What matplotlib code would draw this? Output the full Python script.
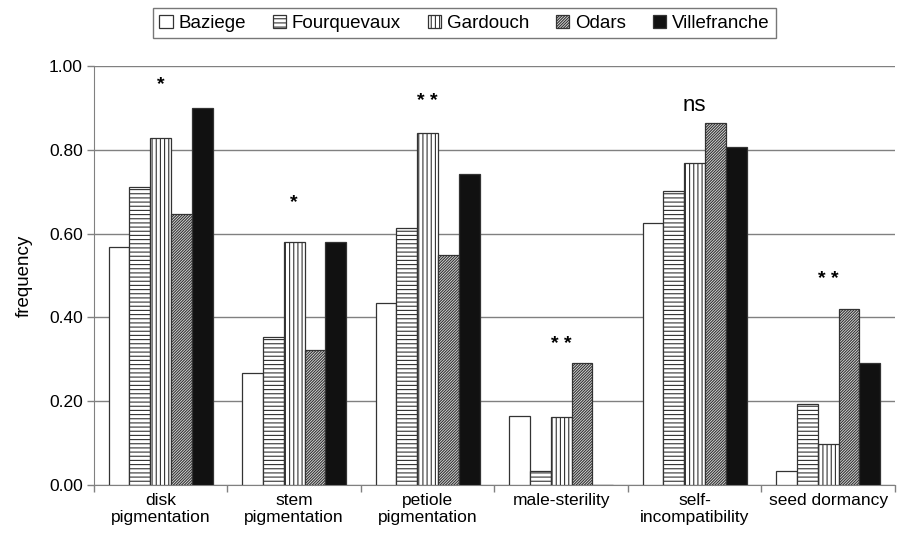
import matplotlib
matplotlib.use("Agg")
import matplotlib.pyplot as plt
import numpy as np

plt.rcParams['font.family'] = ['Liberation Sans', 'DejaVu Sans']
plt.rcParams['hatch.linewidth'] = 0.8

categories = ["disk\npigmentation", "stem\npigmentation", "petiole\npigmentation",
              "male-sterility", "self-\nincompatibility", "seed dormancy"]
series_names = ["Baziege", "Fourquevaux", "Gardouch", "Odars", "Villefranche"]
baziege = [0.567, 0.268, 0.434, 0.165, 0.626, 0.034]
fourquevaux = [0.710, 0.354, 0.613, 0.034, 0.701, 0.193]
gardouch = [0.828, 0.581, 0.839, 0.162, 0.769, 0.098]
odars = [0.647, 0.322, 0.550, 0.290, 0.865, 0.421]
villefranche = [0.900, 0.581, 0.742, 0.0, 0.807, 0.290]
annotations = ["*", "*", "* *", "* *", "ns", "* *"]
annot_y = [0.955, 0.675, 0.915, 0.335, 0.905, 0.490]
yticks = [0.0, 0.2, 0.4, 0.6, 0.8, 1.0]

series = [baziege, fourquevaux, gardouch, odars, villefranche]
hatches = ["", "----", "||||", "////////////", ""]
hatch_faces = ["white", "white", "white", "#e0e0e0", "#111111"]

fig = plt.figure(figsize=(9, 5.4), dpi=100)
ax = fig.add_axes([0.1044, 0.1019, 0.89, 0.7759])

x = np.arange(len(categories))
bw = 0.156
handles = []
for i, (name, vals) in enumerate(zip(series_names, series)):
    pos = x + (i - 2) * bw
    bars = ax.bar(pos, vals, width=bw, facecolor=hatch_faces[i], edgecolor="#333333",
                  hatch=hatches[i], linewidth=0.9, label=name, zorder=3)
    handles.append(bars)

ax.set_xlim(-0.5, len(categories) - 0.5)
ax.set_ylim(0, 1.0)
ax.set_yticks(yticks)
ax.set_yticklabels([f"{v:.2f}" for v in yticks], fontsize=12.5)
ax.yaxis.grid(True, color="#808080", linewidth=1.0, zorder=0)
ax.set_axisbelow(True)
ax.set_xticks(x)
ax.set_xticklabels(categories, fontsize=12.5, linespacing=1.1)
ax.set_xticks(np.arange(len(categories) + 1) - 0.5, minor=True)
ax.tick_params(axis='x', which='major', length=0, pad=6)
ax.tick_params(axis='x', which='minor', length=5, color="#808080", width=1)
ax.tick_params(axis='y', length=5, color="#808080", width=1, pad=3)
for s in ["top", "right"]:
    ax.spines[s].set_visible(False)
ax.spines["left"].set_color("#808080")
ax.spines["bottom"].set_color("#808080")
ax.set_ylabel("frequency", fontsize=13.5, labelpad=12)

for xi, txt, yv in zip(x, annotations, annot_y):
    if txt == "ns":
        ax.text(xi, yv, txt, ha="center", va="center", fontsize=16)
    else:
        ax.text(xi, yv, txt, ha="center", va="center", fontsize=14, fontweight="bold")

leg = fig.legend(handles=handles, labels=series_names, loc="center", ncol=5,
                 bbox_to_anchor=(0.516, 0.957), fontsize=13.5, frameon=True,
                 fancybox=False, edgecolor="#555555", handlelength=0.7,
                 handleheight=0.7, handletextpad=0.3, columnspacing=1.45,
                 borderpad=0.35)
leg.get_frame().set_linewidth(1.0)

fig.savefig("out.png", dpi=100)
